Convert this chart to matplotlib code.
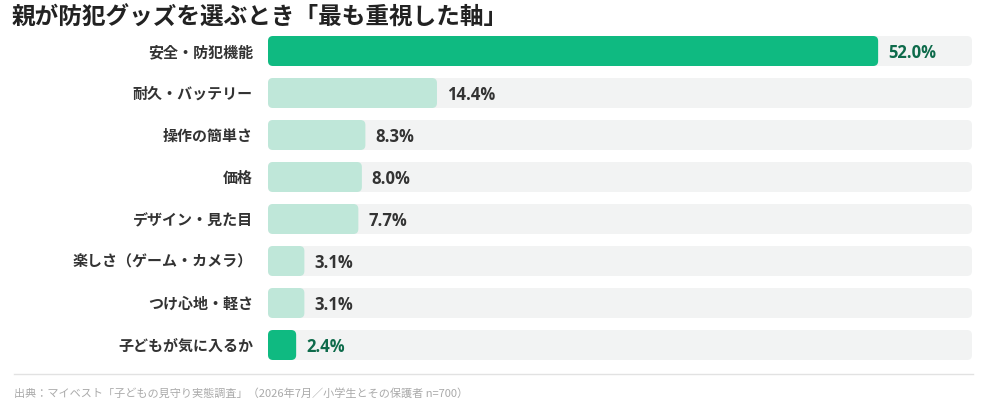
import matplotlib
matplotlib.use('Agg')
from matplotlib import pyplot as plt
from matplotlib.patches import FancyBboxPatch

plt.rcParams['font.family'] = ['Noto Sans CJK JP', 'DejaVu Sans']

title = '親が防犯グッズを選ぶとき「最も重視した軸」'
categories = ['安全・防犯機能', '耐久・バッテリー', '操作の簡単さ', '価格', 'デザイン・見た目',
              '楽しさ（ゲーム・カメラ）', 'つけ心地・軽さ', '子どもが気に入るか']
values = [52.0, 14.4, 8.3, 8.0, 7.7, 3.1, 3.1, 2.4]
highlight = [True, False, False, False, False, False, False, True]
source = '出典：マイベスト「子どもの見守り実態調査」（2026年7月／小学生とその保護者 n=700）'

W, H = 986, 410
xmax = 60.0

# colours
green = '#0fba81'
light_green = '#bfe7d9'
track = '#f2f3f3'
dark_green = '#0e6b4b'
text_dark = '#333333'

fig = plt.figure(figsize=(W / 100, H / 100), dpi=100)

# axes covering the track area (pixels 268..972 wide, rows 31..367 tall)
ax = fig.add_axes([268 / W, 1 - 367 / H, 704 / W, 336 / H])
ax.set_xlim(0, xmax)
ax.set_ylim(len(categories) - 0.5, -0.5)
ax.axis('off')

bar_h = 30 / 42
px_x = 704 / xmax      # pixels per data unit in x
px_y = 42              # pixels per row
radius_px = 5
rx = radius_px / px_x
aspect = (radius_px / px_y) / rx

for i, (cat, v, hl) in enumerate(zip(categories, values, highlight)):
    y0 = i - bar_h / 2
    # background track
    ax.add_patch(FancyBboxPatch((0, y0), xmax, bar_h,
                                boxstyle='round,pad=0,rounding_size=%f' % rx,
                                mutation_aspect=aspect, linewidth=0,
                                facecolor=track, clip_on=False))
    # value bar
    ax.add_patch(FancyBboxPatch((0, y0), v, bar_h,
                                boxstyle='round,pad=0,rounding_size=%f' % rx,
                                mutation_aspect=aspect, linewidth=0,
                                facecolor=green if hl else light_green, clip_on=False))
    # value label
    ax.text(v + 10 / px_x, i + 0.03, '%.1f%%' % v, ha='left', va='center',
            fontsize=12, fontweight='bold', family=['Open Sans', 'DejaVu Sans'],
            color=dark_green if hl else text_dark)
    # category label
    ax.text(-15 / px_x, i, cat, ha='right', va='center',
            fontsize=10.8, fontweight='bold', color=text_dark)

# title
fig.text(12 / W, 1 - 18 / H, title, ha='left', va='center',
         fontsize=17, fontweight='bold', color='#222222')

# footer rule and source
fig.add_artist(plt.Line2D([14 / W, 973 / W], [1 - 375 / H, 1 - 375 / H],
                          color='#e2e2e2', linewidth=1))
fig.text(14 / W, 1 - 393 / H, source, ha='left', va='center',
         fontsize=8, color='#aaaaaa')

fig.savefig('out.png', dpi=100, facecolor='white')
plt.close(fig)
